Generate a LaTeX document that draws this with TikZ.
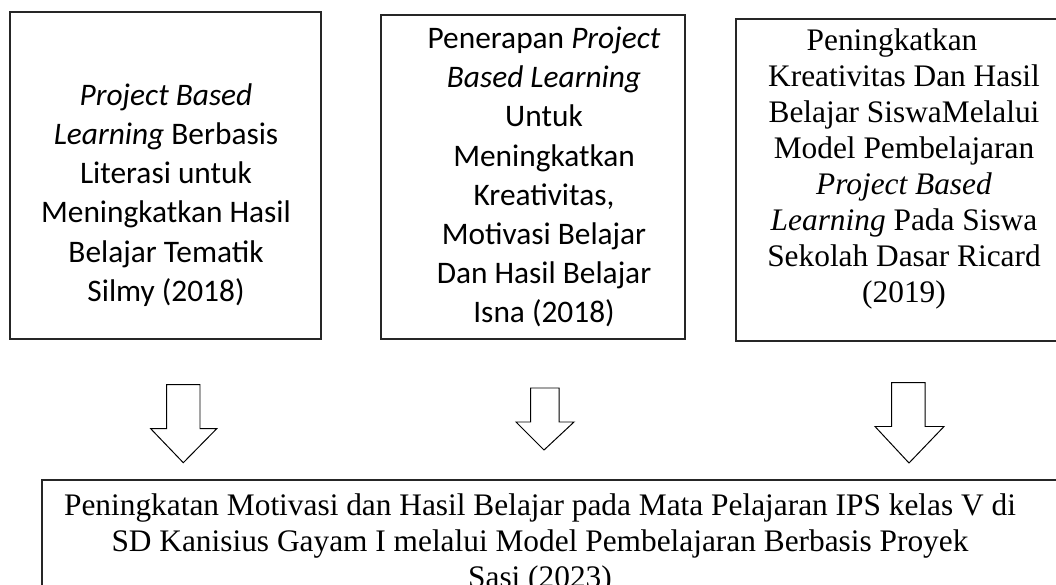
\documentclass[tikz,border=0pt]{standalone}
\usepackage{fontspec}
\setmainfont{Liberation Serif}
\newfontfamily\calibrifont{Carlito}

\begin{document}
\begin{tikzpicture}[x=0.025cm,y=-0.025cm,
    box/.style={draw=black!85,line width=0.8pt},
    blockarrow/.style={draw=black,line width=0.7pt,fill=white,line join=miter},
    sanstext/.style={align=center,inner sep=0pt,font=\calibrifont\fontsize{22.3}{27.8}\selectfont},
    seriftext/.style={align=center,inner sep=0pt,font=\fontsize{22.3}{25.6}\selectfont}]
    \useasboundingbox (0,0) rectangle (1056,584);
    \clip (0,0) rectangle (1056,584);
    % Boxes of earlier studies
    \draw[box] (10,12) rectangle (321,339);
    \draw[box] (381,15) rectangle (685,339);
    \draw[box] (736,19) rectangle (1070,341);
    % Texts of earlier studies
    \node[sanstext] (silmy) at (166,195) {\textit{Project Based}\\
        \textit{Learning} Berbasis\\ Literasi untuk\\ Meningkatkan Hasil\\
        Belajar Tematik\\ Silmy (2018)};
    \node[sanstext] (isna) at (544,177) {Penerapan \textit{Project}\\
        \textit{Based Learning}\\ Untuk\\ Meningkatkan\\ Kreativitas,\\
        Motivasi Belajar\\ Dan Hasil Belajar\\ Isna (2018)};
    \node[seriftext] (ricard) at (904,169) {Peningkatkan\hspace*{0.6cm}\\
        Kreativitas Dan Hasil\\ Belajar SiswaMelalui\\ Model Pembelajaran\\
        \textit{Project Based}\\ \textit{Learning} Pada Siswa\\
        Sekolah Dasar Ricard\\ (2019)};
    % Block arrows
    \draw[blockarrow] (166.7,384.7) -- (200,384.7) -- (200,428.7) -- (216.7,428.7)
        -- (183.3,462.7) -- (150.7,428.7) -- (166.7,428.7) -- cycle;
    \draw[blockarrow] (530.6,388) -- (559,388) -- (559,422) -- (574,422)
        -- (544,450) -- (516,422) -- (530.6,422) -- cycle;
    \draw[blockarrow] (891.6,382.7) -- (925,382.7) -- (925,426.5) -- (944,426.5)
        -- (909,463) -- (875,426.5) -- (891.6,426.5) -- cycle;
    % Present study
    \draw[box] (42,480) rectangle (1070,620);
    \node[seriftext] (sasi) at (540,543.5) {Peningkatan Motivasi dan Hasil Belajar
        pada Mata Pelajaran IPS kelas V di\\ SD Kanisius Gayam I melalui Model
        Pembelajaran Berbasis Proyek\\ Sasi (2023)};
\end{tikzpicture}
\end{document}
